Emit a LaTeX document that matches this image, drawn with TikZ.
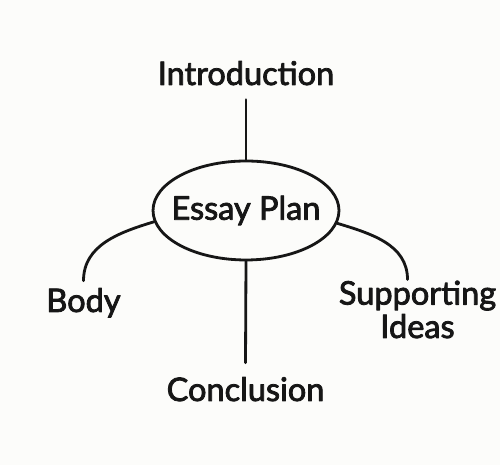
\documentclass[tikz,border=0pt]{standalone}
\usepackage{fontspec}
\setmainfont{Lato}
\newfontfamily\lblfont{Lato}[FakeBold=2.5]
\usetikzlibrary{shapes.geometric}
\definecolor{paper}{HTML}{FCFCFA}
\definecolor{ink}{HTML}{161616}
\begin{document}
\begin{tikzpicture}[x=0.02cm, y=0.02cm, line cap=round, line join=round,
  lbl/.style={font=\lblfont\fontsize{18.5}{19}\selectfont, text=ink, inner sep=8pt},
  link/.style={draw=ink, line width=1.6pt}]
  % 背景(余白込み)
  \fill[paper] (0,0) rectangle (500,465);
  \useasboundingbox (0,0) rectangle (500,465);
  % --- 中心の楕円 ---
  \node[ellipse, link, minimum width=3.72cm, minimum height=1.98cm, lbl, inner sep=0pt] (plan) at (246,254.5) {\makebox[0pt]{Essay Plan}};
  % --- 周りのラベル ---
  \node[lbl, anchor=base] (intro) at (246,380) {Introduction};
  \node[lbl, anchor=base, inner sep=4pt] (body) at (83.5,153) {Body};
  \node[lbl, anchor=base, align=center, inner sep=0.5pt] (support) at (417.5,127) {Supporting\\Ideas};
  \node[lbl, anchor=base] (concl) at (245.5,64) {Conclusion};
  % 上と下の縦線
  \draw[link] (intro.south) -- (plan.north);
  \draw[link] (plan.south) -- (concl.north);
  % 左右の曲線
  \draw[link] (plan.187.8) to[out=197, in=90] (body.north);
  \draw[link] (plan.352.8) to[out=-17, in=90] ([xshift=-0.2cm]support.north);
\end{tikzpicture}
\end{document}
